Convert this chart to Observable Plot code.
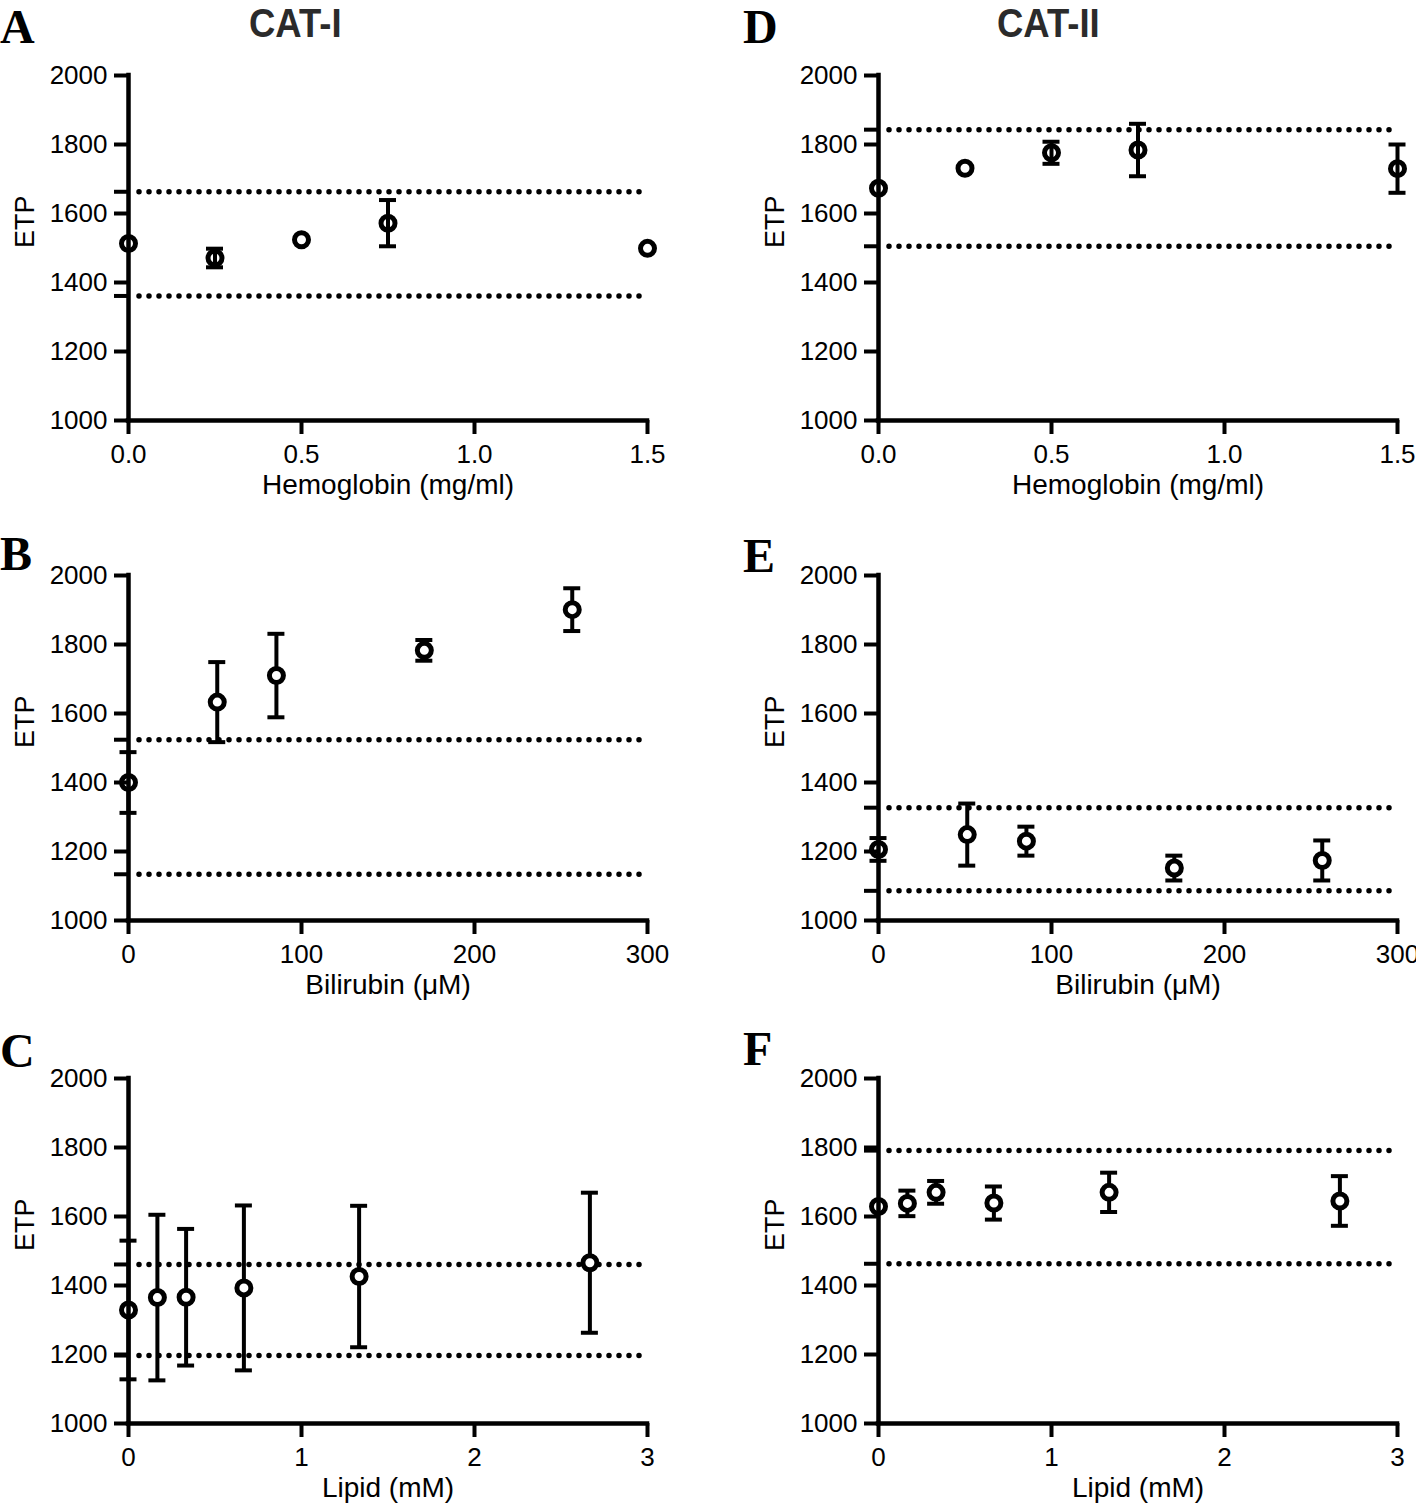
<!DOCTYPE html>
<html><head><meta charset="utf-8">
<script src="https://cdn.jsdelivr.net/npm/d3@7"></script>
<script src="https://cdn.jsdelivr.net/npm/@observablehq/plot@0.6"></script>
<style>
html,body{margin:0;padding:0;background:#fff;}
#fig{position:relative;width:1416px;height:1512px;overflow:hidden;font-family:'Liberation Sans',Arial,Helvetica,sans-serif;}
.panel{position:absolute;}
.letter{position:absolute;font-family:'Liberation Serif','Times New Roman',serif;font-weight:bold;font-size:48px;line-height:1;color:#000;}
.title{position:absolute;font-family:'Liberation Sans',Arial,sans-serif;font-weight:bold;font-size:41px;line-height:1;color:#2b2b2b;transform:scaleX(0.89);transform-origin:left top;white-space:nowrap;}
</style></head><body><div id="fig"></div>
<script>
// ---- tick values ----
const yTicks = [1000, 1200, 1400, 1600, 1800, 2000];
const hemoglobinTicks = [0, 0.5, 1.0, 1.5];
const bilirubinTicks = [0, 100, 200, 300];
const lipidTicks = [0, 1, 2, 3];

// ---- concentrations ----
const hemoglobinConc = [0, 0.25, 0.5, 0.75, 1.5];
const bilirubinConc = [0, 51.3, 85.5, 171, 256.5];
const lipidConc = [0, 0.167, 0.333, 0.667, 1.333, 2.667];

// ---- CAT-I ----
const catIHemoglobinMean = [1513, 1471, 1524, 1572, 1499];
const catIHemoglobinSD = [0, 27, 0, 67, 0];
const catIHemoglobinLimits = [1663, 1361];
const catIBilirubinMean = [1400, 1633, 1710, 1783, 1901];
const catIBilirubinSD = [88, 116, 121, 30, 62];
const catIBilirubinLimits = [1524, 1134];
const catILipidMean = [1329, 1365, 1366, 1393, 1426, 1466];
const catILipidSD = [201, 240, 198, 239, 205, 203];
const catILipidLimits = [1461, 1197];

// ---- CAT-II ----
const catIIHemoglobinMean = [1673, 1731, 1776, 1784, 1730];
const catIIHemoglobinSD = [0, 0, 32, 76, 70];
const catIIHemoglobinLimits = [1843, 1505];
const catIIBilirubinMean = [1206, 1249, 1230, 1152, 1174];
const catIIBilirubinSD = [33, 90, 42, 36, 58];
const catIIBilirubinLimits = [1327, 1086];
const catIILipidMean = [1629, 1638, 1670, 1639, 1670, 1645];
const catIILipidSD = [0, 37, 33, 48, 57, 72];
const catIILipidLimits = [1791, 1463];

// ---- labels ----
const panelLetters = ["A", "B", "C", "D", "E", "F"];
const columnTitles = ["CAT-I", "CAT-II"];
const yLabel = "ETP";
const hemoglobinLabel = "Hemoglobin (mg/ml)";
const bilirubinLabel = "Bilirubin (μM)";
const lipidLabel = "Lipid (mM)";

const fig = document.getElementById("fig");
const colLeft = [0, 750];
const rowTop = [0, 500, 1003];

function panel(cfg) {
  const {conc, mean, sd, limits, ticks, fmt, xlabel, col, row, hollow} = cfg;
  const data = conc.map((x, i) => ({x, y: mean[i], lo: mean[i] - sd[i], hi: mean[i] + sd[i], sd: sd[i]}));
  const bars = data.filter(d => d.sd > 0);
  const xDomain = [ticks[0], ticks[ticks.length - 1]];
  const yDomain = [yTicks[0], yTicks[yTicks.length - 1]];
  const width = col === 0 ? 700 : 666;
  const marginLeft = 128;
  const marginRight = width - marginLeft - 519;
  const chart = Plot.plot({
    width, height: 502,
    marginTop: 75, marginBottom: 82, marginLeft, marginRight,
    style: {fontFamily: "'Liberation Sans', Arial, Helvetica, sans-serif", color: "black", background: "transparent", overflow: "visible"},
    x: {domain: xDomain, label: null},
    y: {domain: yDomain, label: null},
    marks: [
      Plot.ruleY(limits, {x1: xDomain[0], x2: xDomain[1], insetLeft: 11, insetRight: 6, stroke: "black", strokeWidth: 5.5, strokeDasharray: "0 10", strokeLinecap: "round"}),
      Plot.ruleY(limits, {x1: xDomain[0], x2: xDomain[0], insetLeft: -14, stroke: "black", strokeWidth: 4}),
      Plot.ruleX(bars, {x: "x", y1: "lo", y2: "hi", stroke: "black", strokeWidth: 4}),
      Plot.ruleY(bars, {y: "lo", x1: "x", x2: "x", insetLeft: -8.5, insetRight: -8.5, stroke: "black", strokeWidth: 4}),
      Plot.ruleY(bars, {y: "hi", x1: "x", x2: "x", insetLeft: -8.5, insetRight: -8.5, stroke: "black", strokeWidth: 4}),
      Plot.dot(data, {x: "x", y: "y", r: 7, stroke: "black", strokeWidth: 5, fill: hollow ? "none" : "white"}),
      Plot.ruleX([xDomain[0]], {y1: yDomain[0], y2: yDomain[1], stroke: "black", strokeWidth: 4.5, strokeLinecap: "square"}),
      Plot.ruleY([yDomain[0]], {x1: xDomain[0], x2: xDomain[1], stroke: "black", strokeWidth: 4.5, strokeLinecap: "square"}),
      Plot.axisY({ticks: yTicks, tickSize: 14, tickPadding: 7, strokeWidth: 4, fontSize: 26, tickFormat: "d", label: null}),
      Plot.axisX({ticks, tickSize: 14, tickPadding: 10, strokeWidth: 4, fontSize: 26, tickFormat: fmt, label: null}),
      Plot.text([yLabel], {text: d => d, frameAnchor: "left", dx: -103, rotate: -90, fontSize: 27}),
      Plot.text([xlabel], {text: d => d, frameAnchor: "bottom", dy: 73, fontSize: 28})
    ]
  });
  const div = document.createElement("div");
  div.className = "panel";
  div.style.left = colLeft[col] + "px";
  div.style.top = rowTop[row] + "px";
  div.style.width = width + "px";
  div.appendChild(chart);
  fig.appendChild(div);
}

panel({conc: hemoglobinConc, mean: catIHemoglobinMean, sd: catIHemoglobinSD, limits: catIHemoglobinLimits, ticks: hemoglobinTicks, fmt: ".1f", xlabel: hemoglobinLabel, col: 0, row: 0, hollow: true});
panel({conc: bilirubinConc, mean: catIBilirubinMean, sd: catIBilirubinSD, limits: catIBilirubinLimits, ticks: bilirubinTicks, fmt: "d", xlabel: bilirubinLabel, col: 0, row: 1, hollow: false});
panel({conc: lipidConc, mean: catILipidMean, sd: catILipidSD, limits: catILipidLimits, ticks: lipidTicks, fmt: "d", xlabel: lipidLabel, col: 0, row: 2, hollow: false});
panel({conc: hemoglobinConc, mean: catIIHemoglobinMean, sd: catIIHemoglobinSD, limits: catIIHemoglobinLimits, ticks: hemoglobinTicks, fmt: ".1f", xlabel: hemoglobinLabel, col: 1, row: 0, hollow: true});
panel({conc: bilirubinConc, mean: catIIBilirubinMean, sd: catIIBilirubinSD, limits: catIIBilirubinLimits, ticks: bilirubinTicks, fmt: "d", xlabel: bilirubinLabel, col: 1, row: 1, hollow: false});
panel({conc: lipidConc, mean: catIILipidMean, sd: catIILipidSD, limits: catIILipidLimits, ticks: lipidTicks, fmt: "d", xlabel: lipidLabel, col: 1, row: 2, hollow: false});

// panel letters and column titles
const letterPos = [[0, 3], [0, 530], [0, 1027], [743, 3], [743, 532], [743, 1025]];
panelLetters.forEach((t, i) => {
  const el = document.createElement("div");
  el.className = "letter";
  el.textContent = t;
  el.style.left = letterPos[i][0] + "px";
  el.style.top = letterPos[i][1] + "px";
  fig.appendChild(el);
});
const titlePos = [[249, 3], [997, 3]];
columnTitles.forEach((t, i) => {
  const el = document.createElement("div");
  el.className = "title";
  el.textContent = t;
  el.style.left = titlePos[i][0] + "px";
  el.style.top = titlePos[i][1] + "px";
  fig.appendChild(el);
});
</script></body></html>
